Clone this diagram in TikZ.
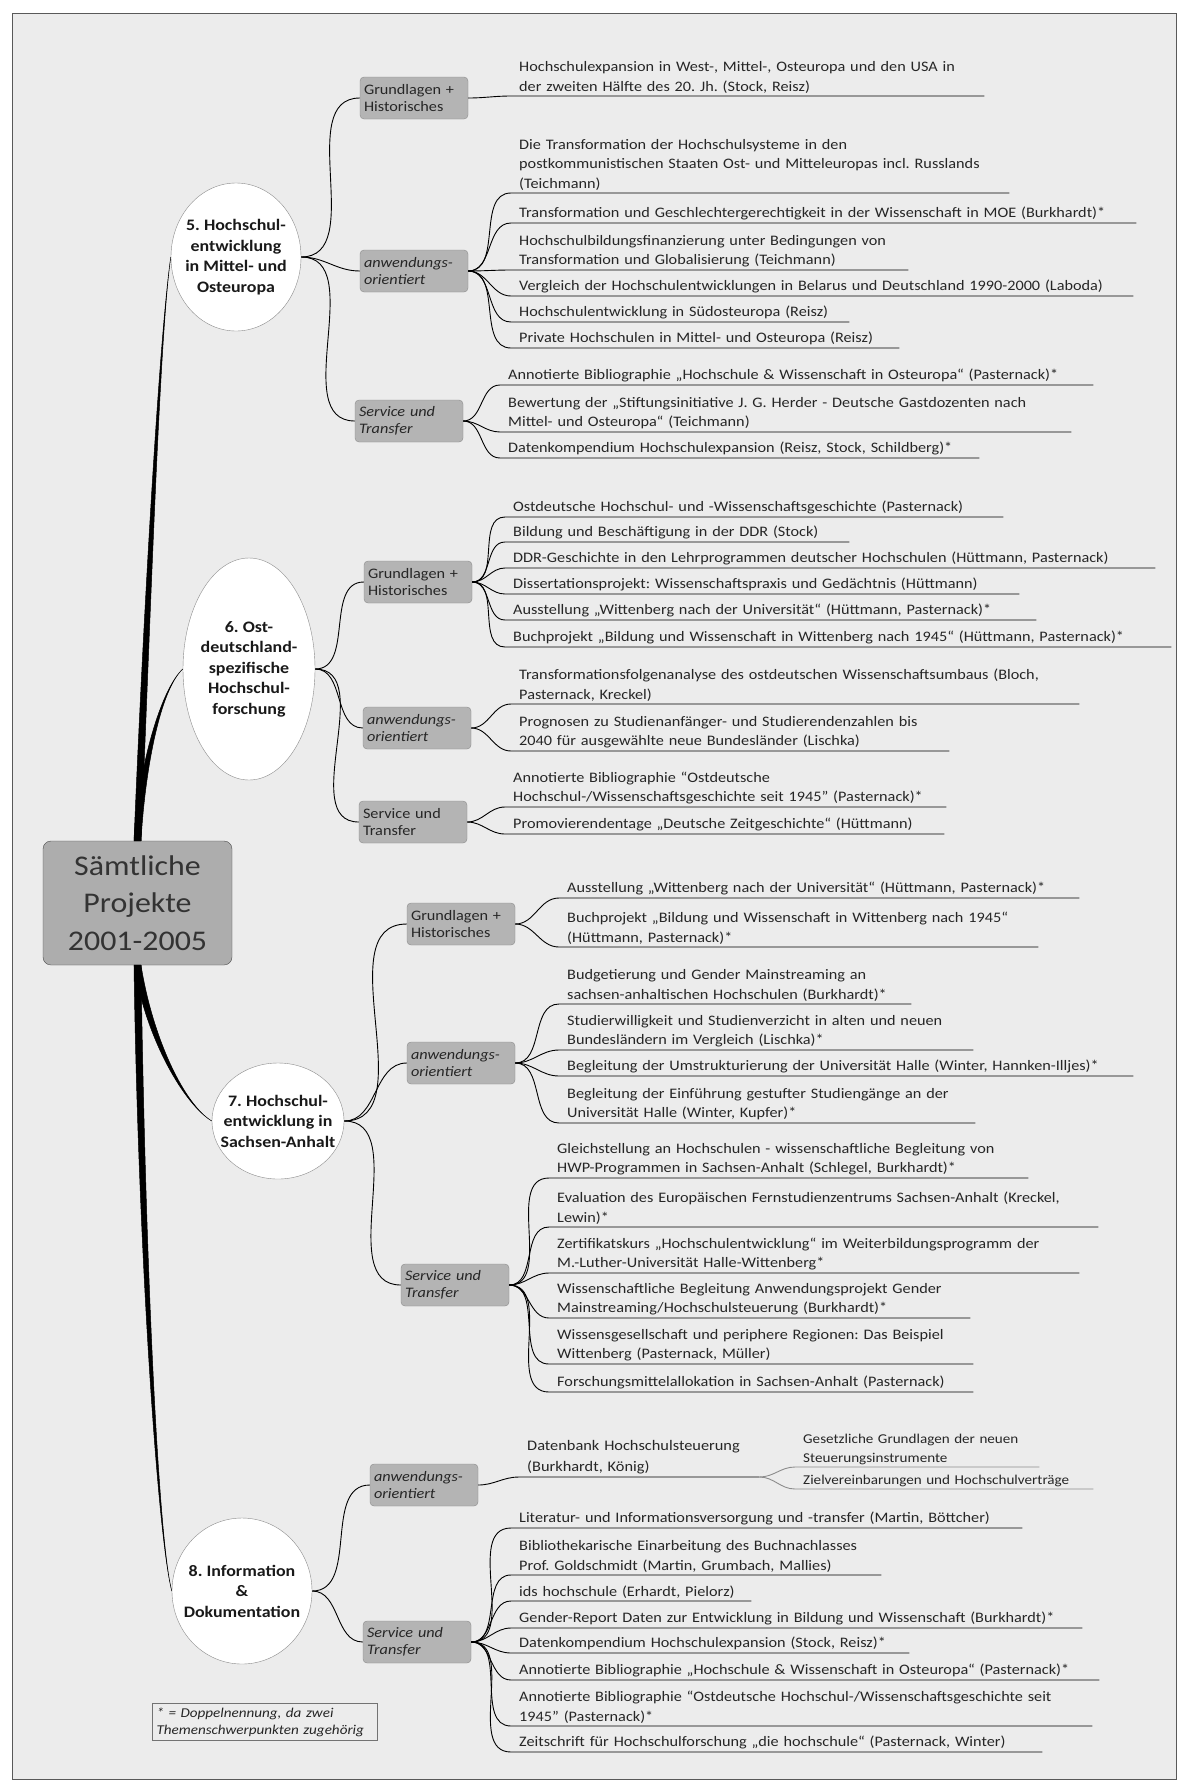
\documentclass[tikz,border=0pt]{standalone}
\usepackage{fontspec}
\setmainfont{Carlito}[FakeStretch=1.12]
\usetikzlibrary{shapes.geometric}
\definecolor{paper}{HTML}{ECECEC}
\definecolor{boxgrey}{HTML}{B4B4B4}
\frenchspacing

\begin{document}
\begin{tikzpicture}[x=1pt,y=-1pt,
		leaf/.style={anchor=south west,align=left,inner xsep=8pt,inner ysep=2.5pt,
			font=\fontsize{14.5}{19.4}\selectfont,text=black!85},
		cat/.style={draw=black!45,fill=boxgrey,rounded corners=4pt,text width=100pt,inner xsep=4pt,
			minimum height=42pt,align=left,font=\fontsize{14.5}{17}\selectfont,text=black!85},
		catit/.style={cat,font=\fontsize{14.5}{17}\selectfont\itshape},
		topic/.style={ellipse,draw=black!45,fill=white,align=center,inner xsep=-16pt,inner ysep=-4pt,
			font=\fontsize{16}{20.5}\selectfont\bfseries,text=black!90},
		twig/.style={line width=0.9pt},
		trunk/.style={fill=black,draw=black,line width=0.5pt,line join=round}]
	\useasboundingbox (0,0) rectangle (1189,1789);
	\fill[white] (0,0) rectangle (1189,1789);
	\filldraw[fill=paper,draw=black!65,line width=0.8pt] (12,13) rectangle (1176,1779);

	\node[draw=black!70,fill=black!32,rounded corners=8pt,minimum width=189pt,minimum height=124pt,
		align=center,font=\fontsize{28.5}{37.5}\selectfont,text=black!80] (main) at (137.5,903) {Sämtliche\\Projekte\\2001-2005};

	\node[topic,minimum width=130pt,minimum height=148pt] (c5) at (236,257) {5. Hochschul-\\entwicklung\\in Mittel- und\\Osteuropa};
	\node[topic,minimum width=132pt,minimum height=222pt] (c6) at (249,669) {6. Ost-\\deutschland-\\spezifische\\Hochschul-\\forschung};
	\node[topic,minimum width=132pt,minimum height=116pt] (c7) at (278,1121) {7. Hochschul-\\entwicklung in\\Sachsen-Anhalt};
	\node[topic,minimum width=140pt,minimum height=146pt] (c8) at (242,1591) {8. Information\\\&\\Dokumentation};

	\filldraw[trunk] ([xshift=-3.5pt]main.north) .. controls (144,600) and (160,330) .. (c5.west)
		.. controls (160,330) and (151,600) .. ([xshift=3.5pt]main.north) -- cycle;
	\filldraw[trunk] ([xshift=-3.5pt]main.north) .. controls (138,770) and (160,690) .. (c6.west)
		.. controls (160,690) and (145,770) .. ([xshift=3.5pt]main.north) -- cycle;
	\filldraw[trunk] ([xshift=-3.5pt]main.south) .. controls (146,1040) and (185,1105) .. (c7.west)
		.. controls (185,1105) and (153,1040) .. ([xshift=3.5pt]main.south) -- cycle;
	\filldraw[trunk] ([xshift=-3.5pt]main.south) .. controls (138,1250) and (158,1540) .. (c8.west)
		.. controls (158,1540) and (145,1250) .. ([xshift=3.5pt]main.south) -- cycle;

	\node[cat] (g5) at (414,98) {Grundlagen +\\Historisches};
	\node[catit] (a5) at (414,271) {anwendungs-\\orientiert};
	\node[catit] (s5) at (409,421) {Service und\\Transfer};
	\node[cat] (g6) at (418,582) {Grundlagen +\\Historisches};
	\node[catit] (a6) at (417,728) {anwendungs-\\orientiert};
	\node[cat] (s6) at (413,822) {Service und\\Transfer};
	\node[cat] (g7) at (461,924) {Grundlagen +\\Historisches};
	\node[catit] (a7) at (461,1063) {anwendungs-\\orientiert};
	\node[catit] (s7) at (455,1285) {Service und\\Transfer};
	\node[catit] (a8) at (424,1485) {anwendungs-\\orientiert};
	\node[catit] (s8) at (417,1642) {Service und\\Transfer};

	\foreach \t/\b in {c5/g5,c5/a5,c5/s5,c6/g6,c6/a6,c6/s6,c7/g7,c7/a7,c7/s7,c8/a8,c8/s8}
		\draw[twig] (\t.east) to[out=0,in=180] (\b.west);

	\node[leaf,text width=457pt] (l51) at (511,96) {Hochschulexpansion in West-, Mittel-, Osteuropa und den USA in\\der zweiten Hälfte des 20. Jh. (Stock, Reisz)};

	\node[leaf,text width=482pt] (l52) at (511,193) {Die Transformation der Hochschulsysteme in den\\postkommunistischen Staaten Ost- und Mitteleuropas incl. Russlands\\(Teichmann)};
	\node[leaf,text width=609pt] (l53) at (511,223) {Transformation und Geschlechtergerechtigkeit in der Wissenschaft in MOE (Burkhardt)*};
	\node[leaf,text width=381pt] (l54) at (511,270) {Hochschulbildungsfinanzierung unter Bedingungen von\\Transformation und Globalisierung (Teichmann)};
	\node[leaf,text width=606pt] (l55) at (511,296) {Vergleich der Hochschulentwicklungen in Belarus und Deutschland 1990-2000 (Laboda)};
	\node[leaf,text width=322pt] (l56) at (511,322) {Hochschulentwicklung in Südosteuropa (Reisz)};
	\node[leaf,text width=372pt] (l57) at (511,348) {Private Hochschulen in Mittel- und Osteuropa (Reisz)};

	\node[leaf,text width=577pt] (l58) at (500,385) {Annotierte Bibliographie „Hochschule \& Wissenschaft in Osteuropa“ (Pasternack)*};
	\node[leaf,text width=555pt] (l59) at (500,432) {Bewertung der „Stiftungsinitiative J. G. Herder - Deutsche Gastdozenten nach\\Mittel- und Osteuropa“ (Teichmann)};
	\node[leaf,text width=463pt] (l510) at (500,458) {Datenkompendium Hochschulexpansion (Reisz, Stock, Schildberg)*};

	\node[leaf,text width=482pt] (l61) at (505,517) {Ostdeutsche Hochschul- und -Wissenschaftsgeschichte (Pasternack)};
	\node[leaf,text width=328pt] (l62) at (505,542) {Bildung und Beschäftigung in der DDR (Stock)};
	\node[leaf,text width=634pt] (l63) at (505,568) {DDR-Geschichte in den Lehrprogrammen deutscher Hochschulen (Hüttmann, Pasternack)};
	\node[leaf,text width=498pt] (l64) at (505,594) {Dissertationsprojekt: Wissenschaftspraxis und Gedächtnis (Hüttmann)};
	\node[leaf,text width=515pt] (l65) at (505,620) {Ausstellung „Wittenberg nach der Universität“ (Hüttmann, Pasternack)*};
	\node[leaf,text width=650pt] (l66) at (505,647) {Buchprojekt „Bildung und Wissenschaft in Wittenberg nach 1945“ (Hüttmann, Pasternack)*};

	\node[leaf,text width=552pt] (l67) at (511,704) {Transformationsfolgenanalyse des ostdeutschen Wissenschaftsumbaus (Bloch,\\Pasternack, Kreckel)};
	\node[leaf,text width=422pt] (l68) at (511,751) {Prognosen zu Studienanfänger- und Studierendenzahlen bis\\2040 für ausgewählte neue Bundesländer (Lischka)};

	\node[leaf,text width=425pt] (l69) at (505,807) {Annotierte Bibliographie “Ostdeutsche\\Hochschul-/Wissenschaftsgeschichte seit 1945” (Pasternack)*};
	\node[leaf,text width=423pt] (l610) at (505,834) {Promovierendentage „Deutsche Zeitgeschichte“ (Hüttmann)};

	\node[leaf,text width=504pt] (l71) at (559,898) {Ausstellung „Wittenberg nach der Universität“ (Hüttmann, Pasternack)*};
	\node[leaf,text width=463pt] (l72) at (559,947) {Buchprojekt „Bildung und Wissenschaft in Wittenberg nach 1945“\\(Hüttmann, Pasternack)*};

	\node[leaf,text width=336pt] (l73) at (559,1004) {Budgetierung und Gender Mainstreaming an\\sachsen-anhaltischen Hochschulen (Burkhardt)*};
	\node[leaf,text width=398pt] (l74) at (559,1050) {Studierwilligkeit und Studienverzicht in alten und neuen\\Bundesländern im Vergleich (Lischka)*};
	\node[leaf,text width=558pt] (l75) at (559,1076) {Begleitung der Umstrukturierung der Universität Halle (Winter, Hannken-Illjes)*};
	\node[leaf,text width=400pt] (l76) at (559,1123) {Begleitung der Einführung gestufter Studiengänge an der\\Universität Halle (Winter, Kupfer)*};

	\node[leaf,text width=463pt] (l77) at (549,1178) {Gleichstellung an Hochschulen - wissenschaftliche Begleitung von\\HWP-Programmen in Sachsen-Anhalt (Schlegel, Burkhardt)*};
	\node[leaf,text width=533pt] (l78) at (549,1227) {Evaluation des Europäischen Fernstudienzentrums Sachsen-Anhalt (Kreckel,\\Lewin)*};
	\node[leaf,text width=514pt] (l79) at (549,1273) {Zertifikatskurs „Hochschulentwicklung“ im Weiterbildungsprogramm der\\M.-Luther-Universität Halle-Wittenberg*};
	\node[leaf,text width=405pt] (l710) at (549,1318) {Wissenschaftliche Begleitung Anwendungsprojekt Gender\\Mainstreaming/Hochschulsteuerung (Burkhardt)*};
	\node[leaf,text width=408pt] (l711) at (549,1364) {Wissensgesellschaft und periphere Regionen: Das Beispiel\\Wittenberg (Pasternack, Müller)};
	\node[leaf,text width=408pt] (l712) at (549,1392) {Forschungsmittelallokation in Sachsen-Anhalt (Pasternack)};

	\node[leaf,text width=224pt,font=\fontsize{14.6}{21}\selectfont] (l81) at (519,1477) {Datenbank Hochschulsteuerung\\(Burkhardt, König)};
	\node[leaf,text width=228pt,font=\fontsize{13.5}{18}\selectfont] (l82) at (795,1467) {Gesetzliche Grundlagen der neuen\\Steuerungsinstrumente};
	\node[leaf,text width=282pt,font=\fontsize{13.5}{18}\selectfont] (l83) at (795,1489) {Zielvereinbarungen und Hochschulverträge};

	\node[leaf,text width=495pt] (l84) at (511,1528) {Literatur- und Informationsversorgung und -transfer (Martin, Böttcher)};
	\node[leaf,text width=354pt] (l85) at (511,1575) {Bibliothekarische Einarbeitung des Buchnachlasses\\Prof. Goldschmidt (Martin, Grumbach, Mallies)};
	\node[leaf,text width=224pt] (l86) at (511,1601) {ids hochschule (Erhardt, Pielorz)};
	\node[leaf,text width=555pt] (l87) at (511,1628) {Gender-Report Daten zur Entwicklung in Bildung und Wissenschaft (Burkhardt)*};
	\node[leaf,text width=382pt] (l88) at (511,1653) {Datenkompendium Hochschulexpansion (Stock, Reisz)*};
	\node[leaf,text width=572pt] (l89) at (511,1680) {Annotierte Bibliographie „Hochschule \& Wissenschaft in Osteuropa“ (Pasternack)*};
	\node[leaf,text width=565pt] (l810) at (511,1726) {Annotierte Bibliographie “Ostdeutsche Hochschul-/Wissenschaftsgeschichte seit\\1945” (Pasternack)*};
	\node[leaf,text width=515pt] (l811) at (511,1752) {Zeitschrift für Hochschulforschung „die hochschule“ (Pasternack, Winter)};

	\foreach \b/\n in {g5/l51,a5/l52,a5/l53,a5/l54,a5/l55,a5/l56,a5/l57,s5/l58,s5/l59,s5/l510,
			g6/l61,g6/l62,g6/l63,g6/l64,g6/l65,g6/l66,a6/l67,a6/l68,s6/l69,s6/l610,
			g7/l71,g7/l72,a7/l73,a7/l74,a7/l75,a7/l76,s7/l77,s7/l78,s7/l79,s7/l710,s7/l711,s7/l712,
			a8/l81,s8/l84,s8/l85,s8/l86,s8/l87,s8/l88,s8/l89,s8/l810,s8/l811}
		\draw[twig] (\b.east) to[out=0,in=180] (\n.south west) -- (\n.south east);
	\foreach \n in {l82,l83}
		\draw[twig,black!45] (l81.south east) to[out=0,in=180] (\n.south west) -- (\n.south east);

	\node[draw=black!55,align=left,text width=217pt,inner sep=4pt,font=\fontsize{13.5}{17}\selectfont\itshape,text=black!85]
		(note) at (265,1722) {* = Doppelnennung, da zwei\\Themenschwerpunkten zugehörig};
\end{tikzpicture}
\end{document}
